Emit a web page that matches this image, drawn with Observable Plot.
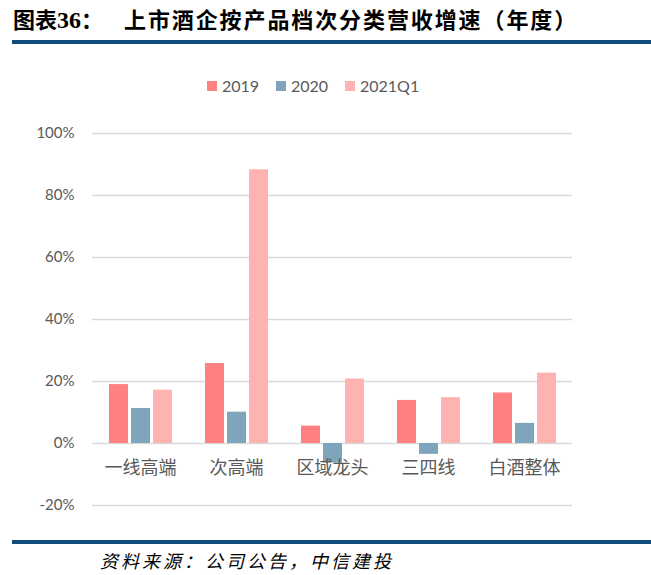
<!DOCTYPE html>
<html>
<head>
<meta charset="utf-8">
<script src="https://cdn.jsdelivr.net/npm/d3@7"></script>
<script src="https://cdn.jsdelivr.net/npm/@observablehq/plot@0.6"></script>
<style>
  html, body { margin: 0; padding: 0; background: #fff; }
  body { width: 651px; height: 575px; position: relative; overflow: hidden; font-family: "Noto Sans CJK SC", sans-serif; }
  .t1 { position: absolute; left: 13px; top: 3px; font-size: 22px; font-weight: bold; color: #000; line-height: 30px; }
  .t1 .num { font-family: "Liberation Serif", serif; font-size: 24px; }
  .t2 { position: absolute; left: 124px; top: 3px; font-size: 22px; font-weight: bold; color: #000; letter-spacing: 1.9px; line-height: 30px; }
  .rule { position: absolute; left: 12px; right: 0; height: 4px; background: #0F4C7E; }
  .leg { position: absolute; top: 76px; font-family: Lato, sans-serif; font-size: 16px; color: #595959; display: flex; align-items: center; }
  .leg i { display: inline-block; width: 10px; height: 10px; margin-right: 5px; }
  .foot { position: absolute; left: 100px; top: 550px; font-size: 18px; line-height: 20px; font-style: italic; color: #000; letter-spacing: 3px; }
  #chart { position: absolute; left: 0; top: 100px; }
</style>
</head>
<body>
<div class="t1">图表<span class="num">36</span>：</div>
<div class="t2">上市酒企按产品档次分类营收增速（年度）</div>
<div class="rule" style="top:40px"></div>
<div id="legend"></div>
<div id="chart"></div>
<div class="rule" style="top:540px"></div>
<div class="foot">资料来源：公司公告，中信建投</div>
<script>
const categories = ["一线高端", "次高端", "区域龙头", "三四线", "白酒整体"];
const seriesNames = ["2019", "2020", "2021Q1"];
const values2019 = [0.190, 0.258, 0.056, 0.139, 0.163];
const values2020 = [0.113, 0.101, -0.063, -0.035, 0.065];
const values2021Q1 = [0.172, 0.883, 0.208, 0.148, 0.227];
const yTicks = [-0.2, 0, 0.2, 0.4, 0.6, 0.8, 1.0];
const colors = ["#FF8080", "#7FA5BD", "#FFB2B2"];

const seriesValues = [values2019, values2020, values2021Q1];
const data = [];
categories.forEach((c, i) => {
  seriesNames.forEach((s, j) => data.push({cat: c, series: s, value: seriesValues[j][i]}));
});

// legend
const legendX = [207, 276, 345];
const legend = document.getElementById("legend");
seriesNames.forEach((s, j) => {
  const d = document.createElement("div");
  d.className = "leg";
  d.style.left = legendX[j] + "px";
  d.innerHTML = `<i style="background:${colors[j]}"></i><span>${s}</span>`;
  legend.appendChild(d);
});

const chart = Plot.plot({
  width: 651,
  height: 440,
  marginLeft: 92,
  marginRight: 79,
  marginTop: 33,
  marginBottom: 35,
  style: {fontFamily: "Lato, sans-serif", fontSize: "15px", color: "#595959", background: "transparent"},
  fx: {domain: categories, padding: 0, axis: null},
  x: {domain: seriesNames, paddingInner: 0.14, paddingOuter: 0.75, axis: null},
  y: {domain: [-0.2, 1.0], ticks: yTicks, tickFormat: d => Math.round(d * 100) + "%", tickSize: 0, tickPadding: 18, label: null},
  color: {domain: seriesNames, range: colors},
  marks: [
    Plot.ruleY(yTicks, {stroke: "#D9D9D9", strokeWidth: 1.5}),
    Plot.barY(data, {fx: "cat", x: "series", y: "value", fill: "series"}),
    Plot.text(categories, {fx: d => d, y: () => 0, text: d => d, dy: 25, frameAnchor: "middle",
      fontFamily: "Noto Sans CJK SC", fontSize: 18, fill: "#595959"})
  ]
});
document.getElementById("chart").appendChild(chart);
</script>
</body>
</html>
